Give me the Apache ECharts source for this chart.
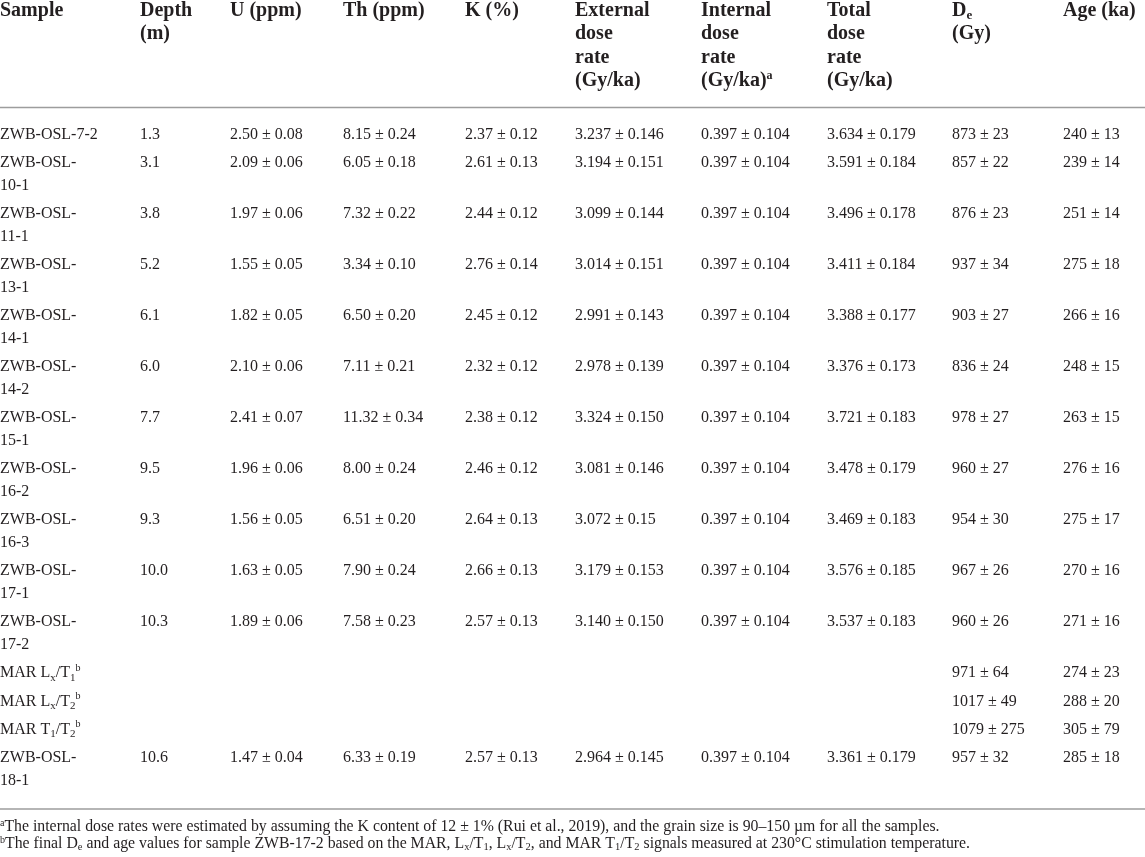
<!DOCTYPE html>
<html>
<head>
<meta charset="utf-8">
<script src="https://cdn.jsdelivr.net/npm/echarts@6/dist/echarts.min.js"></script>
<style>
html,body{margin:0;padding:0;background:#ffffff;}
#chart{width:1145px;height:857px;}
</style>
</head>
<body>
<div id="chart"></div>
<script>
// ---------- DATA ----------
const headers = [
  ['Sample'],
  ['Depth', '(m)'],
  ['U (ppm)'],
  ['Th (ppm)'],
  ['K (%)'],
  ['External', 'dose', 'rate', '(Gy/ka)'],
  ['Internal', 'dose', 'rate', '(Gy/ka){hsup|a}'],
  ['Total', 'dose', 'rate', '(Gy/ka)'],
  ['D{hsub|e}', '(Gy)'],
  ['Age (ka)']
];
const samples = ['ZWB-OSL-7-2', 'ZWB-OSL-10-1', 'ZWB-OSL-11-1', 'ZWB-OSL-13-1', 'ZWB-OSL-14-1',
  'ZWB-OSL-14-2', 'ZWB-OSL-15-1', 'ZWB-OSL-16-2', 'ZWB-OSL-16-3', 'ZWB-OSL-17-1', 'ZWB-OSL-17-2',
  'MAR L{sub|x}/T{sub|1}{sup|b}', 'MAR L{sub|x}/T{sub|2}{sup|b}', 'MAR T{sub|1}/T{sub|2}{sup|b}', 'ZWB-OSL-18-1'];
const depth = ['1.3', '3.1', '3.8', '5.2', '6.1', '6.0', '7.7', '9.5', '9.3', '10.0', '10.3', '', '', '', '10.6'];
const uPpm = ['2.50 ± 0.08', '2.09 ± 0.06', '1.97 ± 0.06', '1.55 ± 0.05', '1.82 ± 0.05', '2.10 ± 0.06',
  '2.41 ± 0.07', '1.96 ± 0.06', '1.56 ± 0.05', '1.63 ± 0.05', '1.89 ± 0.06', '', '', '', '1.47 ± 0.04'];
const thPpm = ['8.15 ± 0.24', '6.05 ± 0.18', '7.32 ± 0.22', '3.34 ± 0.10', '6.50 ± 0.20', '7.11 ± 0.21',
  '11.32 ± 0.34', '8.00 ± 0.24', '6.51 ± 0.20', '7.90 ± 0.24', '7.58 ± 0.23', '', '', '', '6.33 ± 0.19'];
const kPct = ['2.37 ± 0.12', '2.61 ± 0.13', '2.44 ± 0.12', '2.76 ± 0.14', '2.45 ± 0.12', '2.32 ± 0.12',
  '2.38 ± 0.12', '2.46 ± 0.12', '2.64 ± 0.13', '2.66 ± 0.13', '2.57 ± 0.13', '', '', '', '2.57 ± 0.13'];
const extDose = ['3.237 ± 0.146', '3.194 ± 0.151', '3.099 ± 0.144', '3.014 ± 0.151', '2.991 ± 0.143',
  '2.978 ± 0.139', '3.324 ± 0.150', '3.081 ± 0.146', '3.072 ± 0.15', '3.179 ± 0.153', '3.140 ± 0.150',
  '', '', '', '2.964 ± 0.145'];
const intDose = ['0.397 ± 0.104', '0.397 ± 0.104', '0.397 ± 0.104', '0.397 ± 0.104', '0.397 ± 0.104',
  '0.397 ± 0.104', '0.397 ± 0.104', '0.397 ± 0.104', '0.397 ± 0.104', '0.397 ± 0.104', '0.397 ± 0.104',
  '', '', '', '0.397 ± 0.104'];
const totDose = ['3.634 ± 0.179', '3.591 ± 0.184', '3.496 ± 0.178', '3.411 ± 0.184', '3.388 ± 0.177',
  '3.376 ± 0.173', '3.721 ± 0.183', '3.478 ± 0.179', '3.469 ± 0.183', '3.576 ± 0.185', '3.537 ± 0.183',
  '', '', '', '3.361 ± 0.179'];
const deGy = ['873 ± 23', '857 ± 22', '876 ± 23', '937 ± 34', '903 ± 27', '836 ± 24', '978 ± 27',
  '960 ± 27', '954 ± 30', '967 ± 26', '960 ± 26', '971 ± 64', '1017 ± 49', '1079 ± 275', '957 ± 32'];
const ageKa = ['240 ± 13', '239 ± 14', '251 ± 14', '275 ± 18', '266 ± 16', '248 ± 15', '263 ± 15',
  '276 ± 16', '275 ± 17', '270 ± 16', '271 ± 16', '274 ± 23', '288 ± 20', '305 ± 79', '285 ± 18'];
const footnotes = [
  '{fsup|a}The internal dose rates were estimated by assuming the K content of 12 ± 1% (Rui et al., 2019), and the grain size is 90–150 µm for all the samples.',
  '{fsup|b}The final D{fsub|e} and age values for sample ZWB-17-2 based on the MAR, L{fsub|x}/T{fsub|1}, L{fsub|x}/T{fsub|2}, and MAR T{fsub|1}/T{fsub|2} signals measured at 230°C stimulation temperature.'
];

// ---------- LAYOUT (positions/styles) ----------
const W = 1145, H = 857;
const colLeft = [0, 140, 230, 343, 465, 575, 701, 827, 952, 1063];
const headY0 = 10.5, headStep = 23.5;
const bodyY0 = 135, lineStep = 22.8, rowGap = 5.4;
const ruleY = [107.5, 809];
const footY0 = 827, footStep = 17;
const FONT = "'Liberation Serif', 'DejaVu Serif', 'Times New Roman', serif";
const INK = '#231f20';

const styles = {
  head: { size: 20, weight: 'bold', lh: 23, rich: {
    hsup: { fontSize: 12, fontWeight: 'bold', fontFamily: FONT, fill: INK, color: INK, lineHeight: 12, verticalAlign: 'top' },
    hsub: { fontSize: 13, fontWeight: 'bold', fontFamily: FONT, fill: INK, color: INK, lineHeight: 13, verticalAlign: 'bottom' }
  }},
  body: { size: 16, weight: 'normal', lh: 20, rich: {
    sup: { fontSize: 10, fontFamily: FONT, fill: INK, color: INK, lineHeight: 10, verticalAlign: 'top' },
    sub: { fontSize: 11, fontFamily: FONT, fill: INK, color: INK, lineHeight: 11, verticalAlign: 'bottom' }
  }},
  foot: { size: 15.8, weight: 'normal', lh: 18, rich: {
    fsup: { fontSize: 10, fontFamily: FONT, fill: INK, color: INK, lineHeight: 10, verticalAlign: 'top' },
    fsub: { fontSize: 10.5, fontFamily: FONT, fill: INK, color: INK, lineHeight: 10.5, verticalAlign: 'bottom' }
  }}
};

// ---------- BUILD CELLS ----------
const cells = [];
headers.forEach((lines, c) => {
  lines.forEach((t, k) => cells.push({ value: [colLeft[c], headY0 + k * headStep], text: t, kind: 'head' }));
});
function sampleLines(s) {
  return (s.indexOf('ZWB-OSL-') === 0 && s.length > 11) ? ['ZWB-OSL-', s.slice(8)] : [s];
}
const bodyCols = [null, depth, uPpm, thPpm, kPct, extDose, intDose, totDose, deGy, ageKa];
let yCur = bodyY0;
samples.forEach((s, r) => {
  const sl = sampleLines(s);
  sl.forEach((t, k) => cells.push({ value: [colLeft[0], yCur + k * lineStep], text: t, kind: 'body' }));
  for (let c = 1; c < bodyCols.length; c++) {
    const t = bodyCols[c][r];
    if (t) cells.push({ value: [colLeft[c], yCur], text: t, kind: 'body' });
  }
  yCur += sl.length * lineStep + rowGap;
});
footnotes.forEach((t, k) => cells.push({ value: [0, footY0 + k * footStep], text: t, kind: 'foot' }));

// ---------- CHART ----------
const chart = echarts.init(document.getElementById('chart'), null, { renderer: 'canvas' });
chart.setOption({
  animation: false,
  backgroundColor: '#ffffff',
  grid: { left: 0, right: 0, top: 0, bottom: 0, containLabel: false },
  xAxis: { type: 'value', min: 0, max: W, show: false },
  yAxis: { type: 'value', min: 0, max: H, inverse: true, show: false },
  series: [
    {
      type: 'custom',
      silent: true,
      clip: false,
      data: ruleY.map(y => [0, y]),
      renderItem: function (params, api) {
        const p1 = api.coord([0, api.value(1)]);
        const p2 = api.coord([W, api.value(1)]);
        return { type: 'line', shape: { x1: p1[0], y1: p1[1], x2: p2[0], y2: p2[1] },
          style: { stroke: '#9d9d9d', lineWidth: 1.6 } };
      }
    },
    {
      type: 'custom',
      silent: true,
      clip: false,
      data: cells.map(c => c.value),
      renderItem: function (params, api) {
        const cell = cells[params.dataIndex];
        const st = styles[cell.kind];
        const p = api.coord([api.value(0), api.value(1)]);
        return {
          type: 'text', x: p[0], y: p[1],
          style: {
            text: cell.text, fill: INK, fontFamily: FONT, fontSize: st.size, fontWeight: st.weight,
            lineHeight: st.lh, align: 'left', verticalAlign: 'middle', rich: st.rich
          }
        };
      }
    }
  ]
});
</script>
</body>
</html>
